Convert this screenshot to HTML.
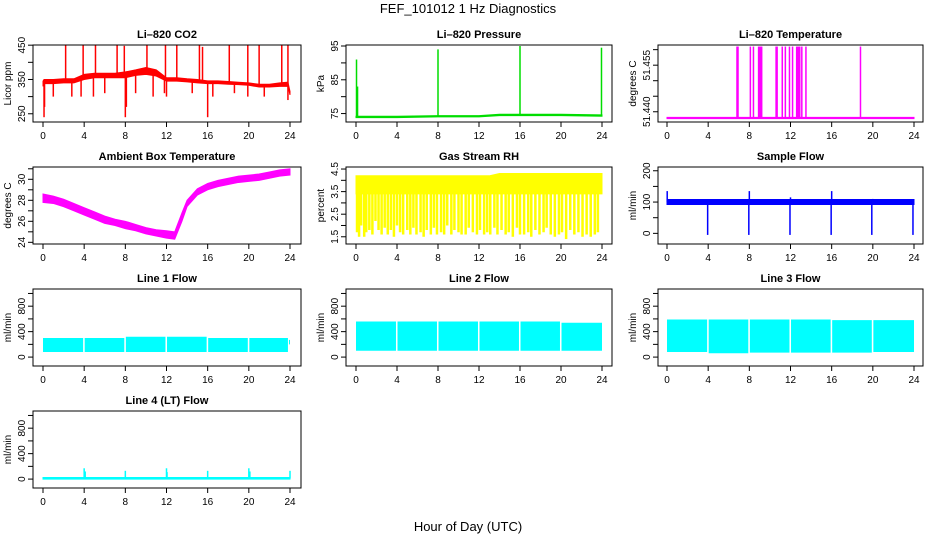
<!DOCTYPE html>
<html><head><meta charset="utf-8"><style>
body{margin:0;background:#fff;}
svg{display:block;font-family:"Liberation Sans",sans-serif;}
</style></head><body>
<svg id="chart" width="936" height="540" viewBox="0 0 936 540">
<text x="468" y="13" text-anchor="middle" font-size="13">FEF_101012  1 Hz Diagnostics</text>
<text x="468" y="531" text-anchor="middle" font-size="13">Hour of Day (UTC)</text>
</svg>
<script>
// ---- data ----
const xTicks = [0,4,8,12,16,20,24];
// CO2
const co2Hours = [0,0.1,1,2,3,4,5,6,7,8,9,10,11,12,13,14,15,16,17,18,19,20,21,22,23,23.8,24];
const co2Low  = [330,338,338,340,340,350,355,355,355,355,362,365,360,345,345,343,340,338,338,336,335,333,328,328,330,330,305];
const co2High = [345,350,350,352,352,365,368,368,368,372,378,385,378,355,355,352,350,346,346,344,342,340,336,336,340,342,315];
const co2SpikeHours = [2.2,3.9,5.1,7.2,7.9,10.1,11.9,13.0,15.2,15.5,18.1,19.9,21.0,23.2,23.8,0.1,0.15,1.0,2.8,3.7,4.9,6.0,8.0,8.1,9.0,10.7,11.8,12.0,14.5,16.0,16.5,18.6,19.9,21.5,23.8];
const co2SpikeVals  = [450,450,450,450,448,450,450,450,450,445,450,452,450,450,450,240,270,300,300,300,300,310,240,270,310,300,310,300,310,240,300,310,300,300,290];
// Pressure
const presHours = [0,4,8,12,14,16,20,24];
const presLow   = [73.8,73.8,74.0,74.0,74.4,74.4,74.4,74.2];
const presHigh  = [74.2,74.2,74.4,74.4,74.8,74.8,74.8,74.6];
const presSpikeHours = [0.05,0.15,8.0,16.0,23.95];
const presSpikeVals  = [91,83,94,95,94.5];
// Li-820 temperature
const tempHours = [0,24];
const tempLow   = [51.4378,51.4378];
const tempHigh  = [51.4382,51.4382];
const tempSpikeHours = [6.8,6.85,6.9,8.1,8.4,8.9,9.0,9.1,9.2,10.6,10.7,11.2,11.5,11.9,12.2,12.6,12.7,12.8,12.9,13.1,13.5,18.8];
const tempSpikeVals  = tempSpikeHours.map(()=>51.461);
// Ambient box temperature
const ambHours = [0,1,2,3,4,5,6,7,8,9,10,11,12,12.8,13.5,14,15,16,17,18,19,20,21,22,23,24];
const ambLow  = [27.8,27.7,27.4,27.0,26.6,26.2,25.8,25.6,25.3,25.1,24.8,24.6,24.4,24.3,26.0,27.4,28.5,29.0,29.3,29.5,29.7,29.8,29.9,30.1,30.3,30.4];
const ambHigh = [28.6,28.4,28.1,27.7,27.3,26.9,26.5,26.2,26.0,25.7,25.4,25.2,25.1,25.0,26.8,28.0,29.1,29.6,29.9,30.1,30.3,30.4,30.5,30.7,30.9,31.0];
// Gas stream RH
const rhHours = [0,13,14,24];
const rhLow  = [3.4,3.4,3.4,3.4];
const rhHigh = [4.2,4.2,4.3,4.3];
const rhSpikeHours = [0.1,0.3,0.5,0.8,1.0,1.3,1.6,1.9,2.2,2.5,2.8,3.1,3.4,3.7,4.0,4.3,4.6,5.0,5.3,5.6,5.9,6.3,6.6,6.9,7.3,7.6,7.9,8.3,8.6,8.9,9.3,9.6,10.0,10.3,10.7,11.0,11.4,11.8,12.1,12.5,12.8,13.1,13.5,13.8,14.2,14.6,14.9,15.3,15.7,16.0,16.4,16.8,17.1,17.5,17.9,18.3,18.6,19.0,19.4,19.8,20.1,20.5,20.9,21.3,21.7,22.1,22.5,22.9,23.3,23.6];
const rhSpikeVals  = [1.7,1.5,2.0,1.5,1.7,1.8,1.6,2.2,1.8,1.6,1.9,1.6,1.8,1.5,2.0,1.7,1.6,1.8,1.6,1.9,1.6,1.7,1.5,1.8,1.6,1.9,1.6,1.7,1.6,2.0,1.6,1.8,1.7,1.6,1.6,1.9,1.7,1.6,1.8,1.6,1.7,1.6,1.9,1.6,1.8,1.6,1.7,1.5,1.9,1.6,1.6,1.7,1.5,1.8,1.6,1.7,1.9,1.6,1.5,1.6,1.7,1.4,1.8,1.6,1.7,1.5,1.6,1.5,1.6,1.7];
// Sample flow
const sfHours = [0,24];
const sfLow  = [92,92];
const sfHigh = [108,108];
const sfSpikeHours = [0.02,3.95,7.95,8.0,11.95,12.0,15.95,16.0,19.9,20.0,23.9];
const sfSpikeVals  = [135,-5,-5,135,-5,115,-5,135,-5,110,-5];
// Line 1
const l1SegStart = [0,4.05,8.05,12.05,16.05,20.05,23.9];
const l1SegEnd   = [3.9,7.9,11.9,15.9,19.9,23.8,24.0];
const l1Low      = [80,80,80,80,80,80,200];
const l1High     = [300,300,320,320,300,300,270];
// Line 2
const l2SegStart = [0,4.05,8.05,12.05,16.05,20.05];
const l2SegEnd   = [3.9,7.9,11.9,15.9,19.9,24.0];
const l2Low      = [100,100,100,100,100,100];
const l2High     = [560,560,560,560,560,540];
// Line 3
const l3SegStart = [0,4.05,8.05,12.05,16.05,20.05];
const l3SegEnd   = [3.9,7.9,11.9,15.9,19.9,24.0];
const l3Low      = [80,60,70,70,70,80];
const l3High     = [590,590,590,590,580,580];
// Line 4
const l4Hours = [0,24];
const l4Low  = [0,0];
const l4High = [25,25];
const l4SpikeHours = [4,4.1,8,12,12.05,16,20,20.1,24];
const l4SpikeVals  = [170,120,130,170,110,130,170,120,130];

const svg = document.getElementById('chart');
const NS = 'http://www.w3.org/2000/svg';
function mk(tag, attrs, parent){
  const e = document.createElementNS(NS, tag);
  for (const k in attrs) e.setAttribute(k, attrs[k]);
  (parent||svg).appendChild(e);
  return e;
}
const colX = [[33,301,43,290],[346,612,356,602],[658,923,667,914]];
const rowY = [45,167,289,411];

function panel(o){
  const [bl,br,x0,x24] = colX[o.col];
  const top = rowY[o.row], bot = top+77;
  const g = mk('g',{});
  
  
  const sx = h => x0 + (x24-x0)*h/24;
  const sy = v => bot - (v-o.ymin)/(o.ymax-o.ymin)*(bot-top);
  const t = mk('text',{x:(bl+br)/2,y:top-7,'text-anchor':'middle','font-size':11,'font-weight':'bold'},g);
  t.textContent = o.title;
  
  
  const sg = mk('g',{},g);
  
  
  const sw = o.seg ? 0 : 1;
  if (o.bands) o.bands.forEach(b=>{
    const pts = b.h.map((h,i)=>sx(h)+','+sy(b.hi[i])).concat(b.h.slice().reverse().map((h,i)=>sx(h)+','+sy(b.lo[b.h.length-1-i])));
    const p = mk('polygon',{points:pts.join(' '),fill:o.color,stroke:sw?o.color:'none','stroke-width':sw},sg);
    
    
  });
  if (o.spikes){
    const [hs,vs,base] = o.spikes;
    hs.forEach((h,i)=>{
      const l = mk('line',{x1:sx(h),x2:sx(h),y1:sy(base(h)),y2:sy(vs[i]),stroke:o.color,'stroke-width':o.sw||1.5},sg);
      
      
    });
  }
  const r = mk('rect',{x:bl,y:top,width:br-bl,height:bot-top,fill:'none',stroke:'#000','stroke-width':1},g);
  
  
  const xa = mk('g',{},g);
  
  
  mk('line',{x1:x0,x2:x24,y1:bot,y2:bot,stroke:'#000'},xa);
  xTicks.forEach(v=>{
    mk('line',{x1:sx(v),x2:sx(v),y1:bot,y2:bot+5,stroke:'#000'},xa);
    const tx = mk('text',{x:sx(v),y:bot+17,'text-anchor':'middle','font-size':10},xa);
    tx.textContent = v;
    
    
  });
  const ya = mk('g',{},g);
  
  
  mk('line',{x1:bl,x2:bl,y1:sy(o.yticks[0]),y2:sy(o.yticks[o.yticks.length-1]),stroke:'#000'},ya);
  o.yticks.forEach(v=>{
    mk('line',{x1:bl-5,x2:bl,y1:sy(v),y2:sy(v),stroke:'#000'},ya);
  });
  o.ylabels.forEach(v=>{
    const yy = sy(v);
    const tx = mk('text',{x:bl-8,y:yy,'text-anchor':'middle','font-size':10,transform:'rotate(-90 '+(bl-8)+' '+yy+')'},ya);
    tx.textContent = o.fmt ? o.fmt(v) : v;
    
    
  });
  const yl = mk('text',{x:bl-22,y:(top+bot)/2,'text-anchor':'middle','font-size':10,transform:'rotate(-90 '+(bl-22)+' '+((top+bot)/2)+')'},g);
  yl.textContent = o.ylab;
  
  
}
function interp(hs, vs){ return h=>{ for(let i=1;i<hs.length;i++){ if(h<=hs[i]){const f=(h-hs[i-1])/(hs[i]-hs[i-1]||1);return vs[i-1]+f*(vs[i]-vs[i-1]);} } return vs[vs.length-1]; }; }
function segBands(s,e,lo,hi){ return s.map((v,i)=>({h:[v,e[i]],lo:[lo[i],lo[i]],hi:[hi[i],hi[i]]})); }

const co2Mid = interp(co2Hours, co2Hours.map((h,i)=>(co2Low[i]+co2High[i])/2));
panel({name:'panel-co2',col:0,row:0,title:'Li\u2013820 CO2',ylab:'Licor ppm',color:'#ff0000',ymin:226,ymax:450.5,
  yticks:[250,300,350,400,450],ylabels:[250,350,450],
  bands:[{h:co2Hours,lo:co2Low,hi:co2High}],spikes:[co2SpikeHours,co2SpikeVals,co2Mid]});
const presMid = interp(presHours, presLow);
panel({name:'panel-pressure',col:1,row:0,title:'Li\u2013820 Pressure',ylab:'kPa',color:'#00dd00',ymin:72.5,ymax:95.3,
  yticks:[75,80,85,90,95],ylabels:[75,85,95],
  bands:[{h:presHours,lo:presLow,hi:presHigh}],spikes:[presSpikeHours,presSpikeVals,presMid]});
panel({name:'panel-li820-temperature',col:2,row:0,title:'Li\u2013820 Temperature',ylab:'degrees C',color:'#ff00ff',ymin:51.4367,ymax:51.4615,
  yticks:[51.440,51.445,51.450,51.455,51.460],ylabels:[51.440,51.455],fmt:v=>v.toFixed(3),
  bands:[{h:tempHours,lo:tempLow,hi:tempHigh}],spikes:[tempSpikeHours,tempSpikeVals,()=>51.438]});
panel({name:'panel-ambient-temperature',col:0,row:1,title:'Ambient Box Temperature',ylab:'degrees C',color:'#ff00ff',ymin:23.84,ymax:31.17,
  yticks:[24,25,26,27,28,29,30,31],ylabels:[24,26,28,30],
  bands:[{h:ambHours,lo:ambLow,hi:ambHigh}]});
panel({name:'panel-gas-rh',col:1,row:1,title:'Gas Stream RH',ylab:'percent',color:'#ffff00',ymin:1.18,ymax:4.59,sw:2.5,
  yticks:[1.5,2,2.5,3,3.5,4,4.5],ylabels:[1.5,2.5,3.5,4.5],
  bands:[{h:rhHours,lo:rhLow,hi:rhHigh}],spikes:[rhSpikeHours,rhSpikeVals,()=>3.6]});
panel({name:'panel-sample-flow',col:2,row:1,title:'Sample Flow',ylab:'ml/min',color:'#0000ff',ymin:-34,ymax:212,
  yticks:[0,50,100,150,200],ylabels:[0,100,200],
  bands:[{h:sfHours,lo:sfLow,hi:sfHigh}],spikes:[sfSpikeHours,sfSpikeVals,()=>100]});
const flowTicks=[0,200,400,600,800,1000], flowLabels=[0,400,800];
panel({name:'panel-line1-flow',col:0,row:2,title:'Line 1 Flow',ylab:'ml/min',color:'#00ffff',ymin:-140,ymax:1070,seg:true,
  yticks:flowTicks,ylabels:flowLabels,bands:segBands(l1SegStart,l1SegEnd,l1Low,l1High)});
panel({name:'panel-line2-flow',col:1,row:2,title:'Line 2 Flow',ylab:'ml/min',color:'#00ffff',ymin:-140,ymax:1070,seg:true,
  yticks:flowTicks,ylabels:flowLabels,bands:segBands(l2SegStart,l2SegEnd,l2Low,l2High)});
panel({name:'panel-line3-flow',col:2,row:2,title:'Line 3 Flow',ylab:'ml/min',color:'#00ffff',ymin:-140,ymax:1070,seg:true,
  yticks:flowTicks,ylabels:flowLabels,bands:segBands(l3SegStart,l3SegEnd,l3Low,l3High)});
panel({name:'panel-line4-flow',col:0,row:3,title:'Line 4 (LT) Flow',ylab:'ml/min',color:'#00ffff',ymin:-140,ymax:1070,
  yticks:flowTicks,ylabels:flowLabels,
  bands:[{h:l4Hours,lo:l4Low,hi:l4High}],spikes:[l4SpikeHours,l4SpikeVals,()=>10]});
</script>
</body></html>
